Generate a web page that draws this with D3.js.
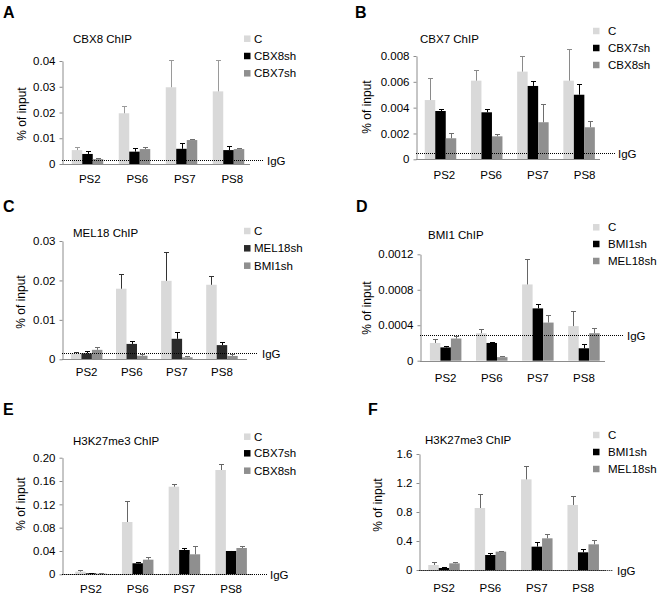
<!DOCTYPE html>
<html><head><meta charset="utf-8">
<script src="https://cdn.jsdelivr.net/npm/d3@7"></script>
<style>body{margin:0;background:#fff}svg{display:block}text{font-family:"Liberation Sans",Arial,sans-serif}</style>
</head><body><svg id="c" width="661" height="597"></svg>
<script>
const categories = ["PS2","PS6","PS7","PS8"];

// Panel A: CBX8 ChIP
const aSeries = ["C","CBX8sh","CBX7sh"];
const aC  = [0.0054, 0.0197, 0.0298, 0.0282];
const aCe = [0.0011, 0.0028, 0.0106, 0.0122];
const aK  = [0.0039, 0.0048, 0.0059, 0.0054];
const aKe = [0.0013, 0.0015, 0.0021, 0.0015];
const aG  = [0.0019, 0.0058, 0.0093, 0.0058];
const aGe = [0.0004, 0.0008, 0.0003, 0.0005];
const aIgG = 0.0016;
const aTicks = [0, 0.01, 0.02, 0.03, 0.04];
const aTickLabels = ["0","0.01","0.02","0.03","0.04"];

// Panel B: CBX7 ChIP
const bSeries = ["C","CBX7sh","CBX8sh"];
const bC  = [0.00459, 0.00609, 0.00679, 0.00609];
const bCe = [0.00168, 0.00083, 0.00121, 0.00243];
const bK  = [0.00374, 0.00364, 0.00568, 0.00500];
const bKe = [0.00016, 0.00023, 0.00041, 0.00081];
const bG  = [0.00163, 0.00178, 0.00287, 0.00248];
const bGe = [0.00037, 0.00016, 0.00139, 0.00046];
const bIgG = 0.00046;
const bTicks = [0, 0.002, 0.004, 0.006, 0.008];
const bTickLabels = ["0","0.002","0.004","0.006","0.008"];

// Panel C: MEL18 ChIP
const cSeries = ["C","MEL18sh","BMI1sh"];
const cC  = [0.0015, 0.0179, 0.0199, 0.0189];
const cCe = [0.0004, 0.0037, 0.0072, 0.0023];
const cK  = [0.0015, 0.0039, 0.0052, 0.0036];
const cKe = [0.0005, 0.0008, 0.0018, 0.0007];
const cG  = [0.0024, 0.0009, 0.0005, 0.00085];
const cGe = [0.0006, 0.0004, 0.0004, 0.0004];
const cIgG = 0.00167;
const cTicks = [0, 0.01, 0.02, 0.03];
const cTickLabels = ["0","0.01","0.02","0.03"];

// Panel D: BMI1 ChIP
const dSeries = ["C","BMI1sh","MEL18sh"];
const dC  = [0.00020, 0.00031, 0.00086, 0.00039];
const dCe = [0.00004, 0.00005, 0.00029, 0.00017];
const dK  = [0.00015, 0.00020, 0.00059, 0.00014];
const dKe = [0.00002, 0.00001, 0.00005, 0.00005];
const dG  = [0.00025, 0.00004, 0.00043, 0.00031];
const dGe = [0.00003, 0.00001, 0.00009, 0.00006];
const dIgG = 0.00029;
const dTicks = [0, 0.0004, 0.0008, 0.0012];
const dTickLabels = ["0","0.0004","0.0008","0.0012"];

// Panel E: H3K27me3 ChIP
const eSeries = ["C","CBX7sh","CBX8sh"];
const eC  = [0.0046, 0.0897, 0.1503, 0.1789];
const eCe = [0.0030, 0.0360, 0.0050, 0.0100];
const eK  = [0.0017, 0.0189, 0.0417, 0.0400];
const eKe = [0.0006, 0.0017, 0.0029, 0.0008];
const eG  = [0.0011, 0.0251, 0.0343, 0.0451];
const eGe = [0.0004, 0.0046, 0.0143, 0.0040];
const eIgG = 0;
const eTicks = [0, 0.04, 0.08, 0.12, 0.16, 0.20];
const eTickLabels = ["0","0.04","0.08","0.12","0.16","0.20"];

// Panel F: H3K27me3 ChIP
const fSeries = ["C","BMI1sh","MEL18sh"];
const fC  = [0.069, 0.855, 1.250, 0.897];
const fCe = [0.037, 0.200, 0.184, 0.124];
const fK  = [0.028, 0.207, 0.322, 0.244];
const fKe = [0.009, 0.023, 0.060, 0.041];
const fG  = [0.092, 0.253, 0.437, 0.354];
const fGe = [0.023, 0.014, 0.060, 0.060];
const fIgG = 0;
const fTicks = [0, 0.4, 0.8, 1.2, 1.6];
const fTickLabels = ["0","0.4","0.8","1.2","1.6"];

const panels = [
 {letter:"A", title:"CBX8 ChIP", series:aSeries, vals:[aC,aK,aG], errs:[aCe,aKe,aGe], igg:aIgG, ticks:aTicks, tl:aTickLabels,
  g:{lx:3, ly:18, ax:62, axEnd:250, x0:64, x1:252, lx0:66, lx1:256, y0:164, y1:61, labY:183, tx:73, ty:43, legX:244, legTX:254, legY:[38.7,56,73.3], iggEnd:263, iggTX:267, ylX:22, ylY:114, errC:"#9a9a9a", kCol:"#000"}},
 {letter:"B", title:"CBX7 ChIP", series:bSeries, vals:[bC,bK,bG], errs:[bCe,bKe,bGe], igg:bIgG, ticks:bTicks, tl:bTickLabels,
  g:{lx:355, ly:18, ax:416, axEnd:600, x0:417.4, x1:602.2, lx0:421, lx1:608, y0:159.3, y1:56, labY:179, tx:420, ty:42.5, legX:593, legTX:608, legY:[31,48,65], iggEnd:615, iggTX:618, ylX:367, ylY:107, errC:"#8a8a8a", kCol:"#000"}},
 {letter:"C", title:"MEL18 ChIP", series:cSeries, vals:[cC,cK,cG], errs:[cCe,cKe,cGe], igg:cIgG, ticks:cTicks, tl:cTickLabels,
  g:{lx:3, ly:212, ax:62, axEnd:247, x0:64.1, x1:244.5, lx0:64.1, lx1:244.5, y0:359.3, y1:241, labY:376, tx:73, ty:236.5, legX:244, legTX:254, legY:[231,248.3,265.7], iggEnd:258, iggTX:262, ylX:21, ylY:302, errC:"#333", kCol:"#2a2a2a"}},
 {letter:"D", title:"BMI1 ChIP", series:dSeries, vals:[dC,dK,dG], errs:[dCe,dKe,dGe], igg:dIgG, ticks:dTicks, tl:dTickLabels,
  g:{lx:356, ly:212, ax:420, axEnd:605, x0:422.6, x1:607, lx0:422.6, lx1:607, y0:360.7, y1:254.3, labY:382, tx:428, ty:239, legX:593, legTX:608, legY:[227.3,244,261], iggEnd:623, iggTX:627, ylX:367, ylY:308, errC:"#666", kCol:"#000"}},
 {letter:"E", title:"H3K27me3 ChIP", series:eSeries, vals:[eC,eK,eG], errs:[eCe,eKe,eGe], igg:eIgG, ticks:eTicks, tl:eTickLabels,
  g:{lx:3, ly:415, ax:62, axEnd:252, x0:67.6, x1:254.5, lx0:67.6, lx1:254.5, y0:574.3, y1:457.7, labY:592.5, tx:73, ty:445, legX:244, legTX:254, legY:[436.7,453.3,470.7], iggEnd:267, iggTX:270, ylX:21, ylY:504, errC:"#666", kCol:"#000"}},
 {letter:"F", title:"H3K27me3 ChIP", series:fSeries, vals:[fC,fK,fG], errs:[fCe,fKe,fGe], igg:fIgG, ticks:fTicks, tl:fTickLabels,
  g:{lx:368, ly:415, ax:419.3, axEnd:606, x0:420.8, x1:606.4, lx0:420.8, lx1:606.4, y0:570, y1:454, labY:592, tx:425, ty:444, legX:593, legTX:608, legY:[435,452,469], iggEnd:613, iggTX:617, ylX:378, ylY:505, errC:"#666", kCol:"#000"}}
];

const svg = d3.select("#c");
const FS = 11.5;

panels.forEach(p => {
  const g = p.g;
  const colors = ["#d9d9d9", g.kCol, "#8f8f8f"];
  const errColors = [g.errC, "#000", "#6e6e6e"];
  const root = svg.append("g");
  const y = d3.scaleLinear().domain([0, p.ticks[p.ticks.length-1]]).range([g.y0, g.y1]);
  const xc = d3.scalePoint().domain(categories).range([g.x0, g.x1]).padding(0.5);
  const xl = d3.scalePoint().domain(categories).range([g.lx0, g.lx1]).padding(0.5);
  const xs = d3.scaleBand().domain([0,1,2]).range([-15.75, 15.75]);

  root.append("text").attr("x", g.lx).attr("y", g.ly).attr("font-size", 16).attr("font-weight", "bold").text(p.letter);
  root.append("text").attr("x", g.tx).attr("y", g.ty).attr("font-size", FS).text(p.title);

  p.vals.forEach((vals, si) => {
    root.append("g").selectAll("rect").data(vals).join("rect")
      .attr("x", (d,i) => xc(categories[i]) + xs(si))
      .attr("width", xs.bandwidth())
      .attr("y", d => y(d))
      .attr("height", d => y(0) - y(d))
      .attr("fill", colors[si]);
  });
  p.vals.forEach((vals, si) => {
    const eg = root.append("g").attr("stroke", errColors[si]).attr("stroke-width", 1);
    vals.forEach((v, i) => {
      const cx = Math.round(xc(categories[i]) + xs(si) + xs.bandwidth()/2) + 0.5;
      const top = Math.round(y(v + p.errs[si][i])) + 0.5;
      eg.append("line").attr("x1", cx).attr("x2", cx).attr("y1", y(v)).attr("y2", top);
      eg.append("line").attr("x1", cx - 2.5).attr("x2", cx + 2.5).attr("y1", top).attr("y2", top);
    });
  });

  root.append("line").attr("x1", g.ax).attr("x2", g.axEnd).attr("y1", Math.round(y(0))+0.5).attr("y2", Math.round(y(0))+0.5)
    .attr("stroke", "#8c8c8c").attr("stroke-width", 1);
  const yAxis = d3.axisLeft(y).tickValues(p.ticks).tickFormat((d,i) => p.tl[i]).tickSize(3).tickSizeOuter(0).tickPadding(4);
  const ya = root.append("g").attr("transform", `translate(${Math.round(g.ax)+0.5},0)`).call(yAxis);
  ya.select(".domain").attr("stroke", "#8c8c8c");
  ya.selectAll(".tick line").attr("stroke", "#8c8c8c");
  ya.selectAll(".tick text").attr("font-size", FS).attr("fill", "#000").attr("font-family", "Liberation Sans, Arial, sans-serif");

  root.append("g").selectAll("text").data(categories).join("text")
    .attr("x", d => xl(d)).attr("y", g.labY).attr("text-anchor", "middle").attr("font-size", FS).text(d => d);

  const iy = Math.round(y(p.igg)) + 0.5;
  root.append("line").attr("x1", g.ax).attr("x2", g.iggEnd).attr("y1", iy).attr("y2", iy)
    .attr("stroke", "#000").attr("stroke-width", 1).attr("stroke-dasharray", "1,1");
  root.append("text").attr("x", g.iggTX).attr("y", iy).attr("dy", "0.35em").attr("font-size", FS).text("IgG");

  root.append("text").attr("transform", `translate(${g.ylX},${g.ylY}) rotate(-90)`).attr("text-anchor", "middle")
    .attr("dy", "0.35em").attr("font-size", 12).text("% of input");

  p.series.forEach((s, si) => {
    root.append("rect").attr("x", g.legX).attr("y", g.legY[si] - 3.25).attr("width", 6.5).attr("height", 6.5).attr("fill", colors[si]);
    root.append("text").attr("x", g.legTX).attr("y", g.legY[si]).attr("dy", "0.35em").attr("font-size", FS).text(s);
  });
});
</script>
</body></html>
